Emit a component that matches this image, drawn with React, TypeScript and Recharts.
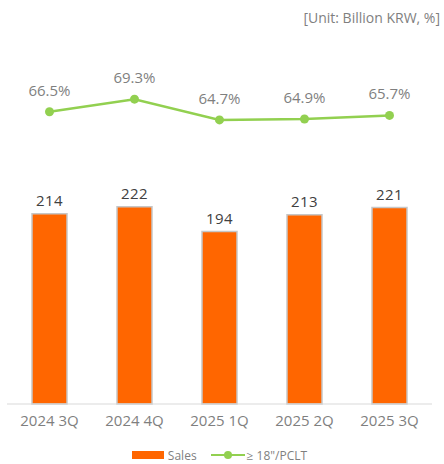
import { ComposedChart, Bar, Line, XAxis, YAxis, Legend, LabelList } from 'recharts';

const quarters = ['2024 3Q', '2024 4Q', '2025 1Q', '2025 2Q', '2025 3Q'];
const sales = [214, 222, 194, 213, 221];
const pcltShare = [66.5, 69.3, 64.7, 64.9, 65.7];

const data = quarters.map((q, i) => ({ q, sales: sales[i], pclt: pcltShare[i] }));

const font = '"Open Sans", sans-serif';

function LegendBox() {
  return (
    <div style={{ height: 30, display: 'flex', justifyContent: 'center', alignItems: 'flex-end', fontFamily: font, fontSize: 12, color: '#7f7f7f' }}>
      <svg width={32} height={10} style={{ marginRight: 4, marginBottom: 4 }}>
        <rect x={0} y={1} width={32} height={8} fill="#ff6600" />
      </svg>
      <span style={{ marginRight: 14, lineHeight: '16px' }}>Sales</span>
      <svg width={34} height={10} style={{ marginRight: 2, marginBottom: 4 }}>
        <line x1={0} y1={5} x2={34} y2={5} stroke="#92d050" strokeWidth={2} />
        <circle cx={17} cy={5} r={4} fill="#92d050" />
      </svg>
      <span style={{ lineHeight: '16px' }}>≥ 18"/PCLT</span>
    </div>
  );
}

export default function App() {
  return (
    <div style={{ position: 'absolute', left: 0, top: 0, width: 444, height: 464, background: '#fff' }}>
      <div style={{ position: 'absolute', right: 4, top: 8, fontFamily: font, fontSize: 14, color: '#7f7f7f' }}>
        [Unit: Billion KRW, %]
      </div>
      <ComposedChart width={444} height={464} data={data} margin={{ top: 60, right: 12, left: 7, bottom: 0 }}>
        <XAxis
          dataKey="q"
          height={30}
          tickLine={false}
          axisLine={{ stroke: '#d9d9d9' }}
          tick={{ fontSize: 15, fill: '#7f7f7f', fontFamily: font }}
          tickMargin={5}
        />
        <YAxis yAxisId="bar" hide domain={[0, 387]} />
        <YAxis yAxisId="line" hide domain={[1.6, 78]} />
        <Legend verticalAlign="bottom" content={() => <LegendBox />} />
        <Bar yAxisId="bar" dataKey="sales" barSize={35} fill="#ff6600" stroke="#c6c6c6" strokeWidth={1.5} isAnimationActive={false}>
          <LabelList dataKey="sales" position="top" offset={8} style={{ fontSize: 15, fill: '#404040', fontFamily: font, letterSpacing: 0.5 }} />
        </Bar>
        <Line
          yAxisId="line"
          dataKey="pclt"
          stroke="#92d050"
          strokeWidth={2.5}
          dot={{ r: 4.5, fill: '#92d050', stroke: '#92d050', strokeWidth: 0 }}
          isAnimationActive={false}
        >
          <LabelList
            dataKey="pclt"
            position="top"
            offset={16}
            formatter={(v: any) => `${Number(v).toFixed(1)}%`}
            style={{ fontSize: 15, fill: '#7f7f7f', fontFamily: font }}
          />
        </Line>
      </ComposedChart>
    </div>
  );
}
